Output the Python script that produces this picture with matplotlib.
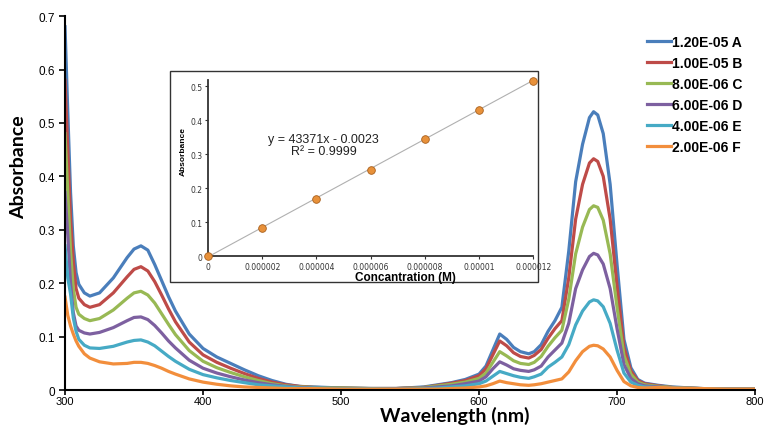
import matplotlib
matplotlib.use("Agg")
import matplotlib.pyplot as plt
from matplotlib.patches import Rectangle
from matplotlib.ticker import FuncFormatter

# wavelength grid (nm) shared by all spectra
wavelength = [300, 302, 304, 306, 308, 310, 314, 318, 325, 335, 345, 350, 355, 360, 365,
              370, 375, 380, 390, 400, 410, 420, 430, 440, 450, 460, 470, 480, 500, 520,
              540, 560, 570, 580, 590, 600, 605, 610, 615, 620, 625, 630, 636, 640, 645,
              650, 655, 660, 665, 670, 675, 680, 683, 686, 690, 695, 700, 705, 710, 715,
              720, 730, 740, 760, 780, 800]

abs_a = [0.68, 0.52, 0.37, 0.27, 0.22, 0.198, 0.182, 0.176, 0.182, 0.21, 0.248, 0.264, 0.27, 0.262, 0.235,
         0.205, 0.175, 0.148, 0.105, 0.078, 0.062, 0.05, 0.038, 0.027, 0.018, 0.011, 0.007, 0.006, 0.004, 0.003,
         0.003, 0.006, 0.01, 0.014, 0.02, 0.03, 0.045, 0.075, 0.105, 0.095, 0.08, 0.072, 0.068, 0.072, 0.085,
         0.11, 0.13, 0.155, 0.26, 0.39, 0.46, 0.51, 0.521, 0.515, 0.48, 0.385, 0.235, 0.095, 0.042, 0.02,
         0.013, 0.009, 0.006, 0.003, 0.002, 0.002]
abs_b = [0.58, 0.45, 0.32, 0.24, 0.19, 0.172, 0.16, 0.155, 0.16, 0.182, 0.212, 0.226, 0.231, 0.223, 0.203,
         0.178, 0.152, 0.128, 0.09, 0.066, 0.052, 0.041, 0.031, 0.022, 0.015, 0.01, 0.007, 0.005, 0.004, 0.003,
         0.003, 0.005, 0.009, 0.013, 0.018, 0.027, 0.04, 0.066, 0.092, 0.083, 0.07, 0.063, 0.06, 0.065, 0.076,
         0.097, 0.115, 0.13, 0.21, 0.32, 0.385, 0.425, 0.433, 0.428, 0.4, 0.32, 0.195, 0.08, 0.036, 0.018,
         0.012, 0.008, 0.005, 0.003, 0.002, 0.002]
abs_c = [0.48, 0.37, 0.26, 0.19, 0.155, 0.142, 0.134, 0.13, 0.134, 0.15, 0.172, 0.182, 0.185, 0.178, 0.163,
         0.143, 0.123, 0.104, 0.074, 0.054, 0.042, 0.033, 0.025, 0.018, 0.012, 0.008, 0.006, 0.005, 0.004, 0.003,
         0.003, 0.005, 0.008, 0.011, 0.015, 0.022, 0.032, 0.052, 0.072, 0.064, 0.055, 0.05, 0.048, 0.052, 0.063,
         0.082, 0.098, 0.112, 0.17, 0.255, 0.305, 0.338, 0.345, 0.342, 0.318, 0.255, 0.155, 0.065, 0.03, 0.015,
         0.01, 0.007, 0.005, 0.003, 0.002, 0.002]
abs_d = [0.37, 0.29, 0.2, 0.145, 0.12, 0.112, 0.107, 0.105, 0.108, 0.117, 0.13, 0.136, 0.137, 0.132, 0.121,
         0.107, 0.092, 0.079, 0.056, 0.041, 0.032, 0.025, 0.019, 0.014, 0.01, 0.007, 0.005, 0.004, 0.003, 0.003,
         0.003, 0.004, 0.006, 0.008, 0.012, 0.017, 0.025, 0.04, 0.053, 0.047, 0.04, 0.037, 0.035, 0.038, 0.045,
         0.062, 0.075, 0.088, 0.125, 0.19, 0.225, 0.25, 0.256, 0.253, 0.236, 0.19, 0.115, 0.048, 0.022, 0.012,
         0.008, 0.006, 0.004, 0.003, 0.002, 0.002]
abs_e = [0.27, 0.21, 0.18, 0.135, 0.11, 0.095, 0.084, 0.079, 0.078, 0.082, 0.09, 0.093, 0.094, 0.09, 0.083,
         0.073, 0.063, 0.054, 0.039, 0.029, 0.023, 0.018, 0.014, 0.01, 0.008, 0.006, 0.004, 0.004, 0.003, 0.003,
         0.002, 0.003, 0.004, 0.006, 0.008, 0.012, 0.017, 0.026, 0.035, 0.031, 0.027, 0.024, 0.022, 0.025, 0.03,
         0.043, 0.052, 0.062, 0.085, 0.122, 0.148, 0.165, 0.169, 0.167, 0.156, 0.125, 0.075, 0.032, 0.015, 0.009,
         0.006, 0.005, 0.004, 0.003, 0.002, 0.002]
abs_f = [0.174, 0.14, 0.12, 0.105, 0.092, 0.082, 0.068, 0.06, 0.053, 0.049, 0.05, 0.052, 0.052, 0.05, 0.046,
         0.041, 0.035, 0.03, 0.021, 0.015, 0.011, 0.008, 0.006, 0.005, 0.004, 0.003, 0.003, 0.003, 0.002, 0.002,
         0.002, 0.002, 0.002, 0.003, 0.004, 0.006, 0.008, 0.012, 0.017, 0.014, 0.012, 0.01, 0.009, 0.01, 0.012,
         0.015, 0.018, 0.021, 0.034, 0.055, 0.072, 0.082, 0.084, 0.083, 0.077, 0.062, 0.037, 0.016, 0.008, 0.005,
         0.004, 0.005, 0.004, 0.003, 0.002, 0.002]

series_labels = ["1.20E-05 A", "1.00E-05 B", "8.00E-06 C", "6.00E-06 D", "4.00E-06 E", "2.00E-06 F"]
series_colors = ["#4a7ebb", "#be4b48", "#98b954", "#7d60a0", "#46aac5", "#f28e3c"]

# calibration (inset)
conc = [0, 0.000002, 0.000004, 0.000006, 0.000008, 0.00001, 0.000012]
conc_abs = [0.0, 0.083, 0.167, 0.254, 0.345, 0.432, 0.516]
conc_ticks = [0, 0.000002, 0.000004, 0.000006, 0.000008, 0.00001, 0.000012]
conc_tick_labels = ["0", "0.000002", "0.000004", "0.000006", "0.000008", "0.00001", "0.000012"]
slope = 43371
intercept = -0.0023

fig = plt.figure(figsize=(7.65, 4.27), dpi=100)
ax = fig.add_axes([0.085, 0.084, 0.902, 0.876])

spectra = [abs_a, abs_b, abs_c, abs_d, abs_e, abs_f]
for vals, lab, col in zip(spectra, series_labels, series_colors):
    ax.plot(wavelength, vals, color=col, lw=2.3, label=lab)

ax.set_xlim(300, 800)
ax.set_ylim(0, 0.7)
ax.set_xticks([300, 400, 500, 600, 700, 800])
ax.set_yticks([0, 0.1, 0.2, 0.3, 0.4, 0.5, 0.6, 0.7])
ax.yaxis.set_major_formatter(FuncFormatter(lambda v, p: "%g" % round(v, 2)))
for s in ["top", "right"]:
    ax.spines[s].set_visible(False)
for s in ["left", "bottom"]:
    ax.spines[s].set_linewidth(1.5)
ax.tick_params(direction="out", length=4, width=1.2, labelsize=8.5, pad=3)
ax.tick_params(axis="x", length=3.5, pad=1, labelsize=8)
for t in ax.get_xticklabels() + ax.get_yticklabels():
    t.set_family("Liberation Sans")

ax.set_xlabel("Wavelength (nm)", family="Lato", weight="bold", fontsize=14)
ax.xaxis.set_label_coords(0.565, -0.043)
ax.set_ylabel("Absorbance", family="Lato", weight="bold", fontsize=14)
ax.yaxis.set_label_coords(-0.055, 0.6)

leg = fig.legend(loc="upper left", bbox_to_anchor=(0.838, 0.928), frameon=False,
                 handlelength=1.75, handletextpad=0.05, labelspacing=0.5, borderaxespad=0,
                 prop={"family": "Liberation Sans", "weight": "bold", "size": 10})

# inset box and calibration plot
box = Rectangle((0.222, 0.337), 0.481, 0.494, transform=fig.transFigure,
                facecolor="white", edgecolor="#333333", lw=1.0, zorder=3)
fig.patches.append(box)

ins = fig.add_axes([0.272, 0.398, 0.425, 0.413], zorder=4)
ins.patch.set_alpha(0)
x0, x1 = conc[0], conc[-1]
ins.plot([x0, x1], [slope * x0 + intercept, slope * x1 + intercept], color="#b0b0b0", lw=0.8)
ins.plot(conc, conc_abs, "o", ms=5.5, color="#e8913a", mec="#a85f1c", mew=0.6, clip_on=False, zorder=5)
ins.set_xlim(0, 0.000012)
ins.set_ylim(0, 0.52)
ins.set_xticks(conc_ticks)
ins.set_xticklabels(conc_tick_labels)
ins.set_yticks([0, 0.1, 0.2, 0.3, 0.4, 0.5])
ins.yaxis.set_major_formatter(FuncFormatter(lambda v, p: "%g" % round(v, 2)))
for s in ["top", "right"]:
    ins.spines[s].set_visible(False)
for s in ["left", "bottom"]:
    ins.spines[s].set_linewidth(1.3)
    ins.spines[s].set_color("#333333")
ins.tick_params(direction="out", length=2.5, width=0.8, labelsize=5.5, pad=1.5, colors="#333333")
ins.set_xlabel("Concantration (M)", family="Liberation Sans", weight="bold", fontsize=8.5)
ins.xaxis.set_label_coords(0.608, -0.082)
ins.set_ylabel("Absorbance", family="Liberation Sans", weight="bold", fontsize=6)
ins.yaxis.set_label_coords(-0.065, 0.6)
ins.text(0.355, 0.63, "y = 43371x - 0.0023\nR² = 0.9999", transform=ins.transAxes,
         ha="center", va="center", fontsize=9, family="Liberation Sans", linespacing=0.95,
         color="#222222")

fig.savefig("out.png", dpi=100)
